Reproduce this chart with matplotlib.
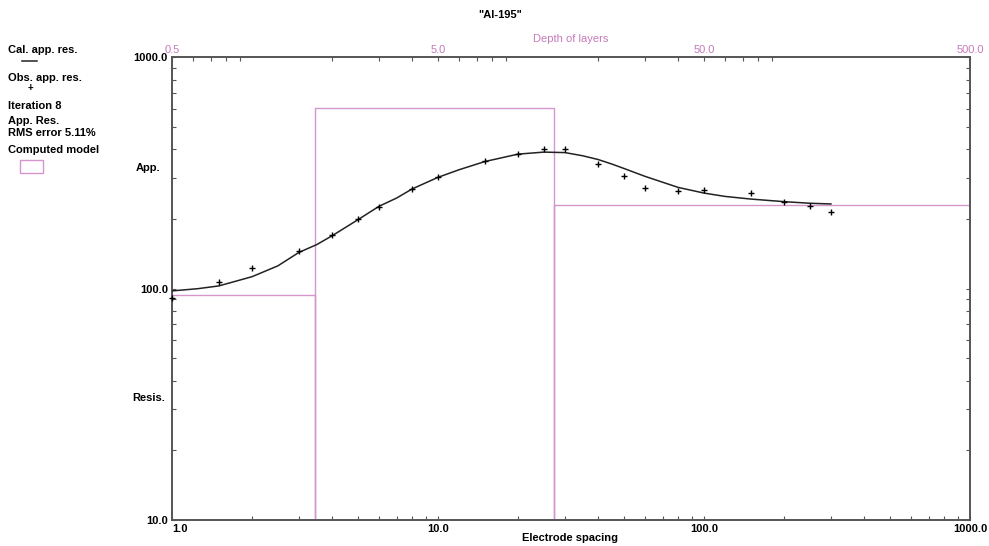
import matplotlib
matplotlib.use('Agg')
import matplotlib.pyplot as plt
from matplotlib.ticker import FixedLocator, NullFormatter

# observed apparent resistivity (electrode spacing, ohm-m)
spacing = [1, 1.5, 2, 3, 4, 5, 6, 8, 10, 15, 20, 25, 30, 40, 50, 60, 80, 100, 150, 200, 250, 300]
obs_res = [90.8, 106.9, 122.5, 145.7, 171, 199.5, 226, 271, 303, 357, 384, 401.6, 401.6,
           345.6, 308, 273.5, 264, 266.5, 260, 237.8, 227, 214.5]

# calculated apparent resistivity curve, read at finer spacings
cal_spacing = [1, 1.25, 1.5, 2, 2.5, 3, 3.5, 4, 5, 6, 7, 8, 10, 12, 15, 20, 25, 30, 35, 40,
               45, 50, 60, 80, 100, 120, 150, 200, 250, 300]
cal_res = [97.7, 99.9, 102.7, 112.6, 125.4, 143.4, 155, 169.3, 198.6, 227, 246.7, 270, 303,
           326.8, 354.6, 381.8, 389.6, 387.7, 375.6, 361.8, 346, 331, 306, 274, 259, 250.5,
           244, 237.8, 234, 232.4]

# computed layer model
layer_res = [93.8, 606, 230]
layer_depth = [1.73, 13.6]

x_ticks = [1.0, 10.0, 100.0, 1000.0]
depth_ticks = [0.5, 5.0, 50.0, 500.0]
y_ticks = [10.0, 100.0, 1000.0]

pink = '#d595cd'
pink_txt = '#c57ab9'
plt.rcParams['font.family'] = ['Liberation Sans', 'DejaVu Sans']
plt.rcParams['font.weight'] = 'bold'
plt.rcParams['font.size'] = 8

fig = plt.figure(figsize=(9.89, 5.46), dpi=100)
ax = fig.add_axes([0.1739, 0.0482, 0.8069, 0.8465])

# model drawn against the depth axis (top)
top = ax.twiny()
top.set_xscale('log')
top.set_xlim(0.5, 500)
mx = [0.5, layer_depth[0], layer_depth[0], layer_depth[0], layer_depth[1], layer_depth[1], layer_depth[1], 500]
my = [layer_res[0], layer_res[0], 10, layer_res[1], layer_res[1], 10, layer_res[2], layer_res[2]]

ax.set_xscale('log')
ax.set_yscale('log')
ax.set_xlim(1, 1000)
ax.set_ylim(10, 1000)
top.plot(mx, my, color=pink, lw=1.0, zorder=2)
ax.plot(cal_spacing, cal_res, color='#222222', lw=1.1, zorder=3)
ax.plot(spacing, obs_res, '+', color='black', ms=5, mew=1.0, zorder=4, clip_on=False)
ax.set_zorder(top.get_zorder() + 1)
ax.patch.set_visible(False)

minors_x = [m * 10 ** e for e in range(0, 3) for m in range(2, 10)]
minors_d = [m * 10 ** e for e in range(-1, 2) for m in range(2, 10) if m * 10 ** e > 0.5]
minors_y = [m * 10 ** e for e in range(1, 3) for m in range(2, 10)]

ax.xaxis.set_major_locator(FixedLocator(x_ticks))
ax.xaxis.set_minor_locator(FixedLocator(minors_x))
ax.set_xticklabels(['%.1f' % v for v in x_ticks])
ax.xaxis.set_minor_formatter(NullFormatter())
ax.get_xticklabels()[0].set_ha('left')
ax.yaxis.set_major_locator(FixedLocator(y_ticks))
ax.yaxis.set_minor_locator(FixedLocator(minors_y))
ax.set_yticklabels(['%.1f' % v for v in y_ticks])
ax.yaxis.set_minor_formatter(NullFormatter())
ax.tick_params(which='both', direction='in', right=True, length=3, width=0.8, color='#555555', pad=3)
ax.tick_params(axis='x', which='both', top=False)

top.xaxis.set_major_locator(FixedLocator(depth_ticks))
top.xaxis.set_minor_locator(FixedLocator(minors_d))
top.set_xticklabels(['%.1f' % v for v in depth_ticks], fontweight='normal')
top.xaxis.set_minor_formatter(NullFormatter())
top.tick_params(which='both', direction='in', length=3, width=0.8, color='#555555',
                labelcolor=pink_txt, pad=2)

for a in (ax, top):
    for s in a.spines.values():
        s.set_color('#555555')
        s.set_linewidth(1.2)

fig.text(0.576, 0.015, 'Electrode spacing', ha='center', va='center')
top.set_xlabel('Depth of layers', color=pink_txt, fontweight='normal', labelpad=2)
fig.text(0.506, 0.972, '"AI-195"', ha='center', va='center')
fig.text(0.15, 0.692, 'App.', ha='center', va='center')
fig.text(0.15, 0.271, 'Resis.', ha='center', va='center')

# left side legend block
fig.text(0.008, 0.908, 'Cal. app. res.', ha='left', va='center')
fig.add_artist(plt.Line2D([0.022, 0.037], [0.889, 0.889], color='#222222', lw=1.1))
fig.text(0.008, 0.857, 'Obs. app. res.', ha='left', va='center')
fig.text(0.031, 0.838, '+', ha='center', va='center', fontsize=7)
fig.text(0.008, 0.806, 'Iteration 8', ha='left', va='center')
fig.text(0.008, 0.778, 'App. Res.', ha='left', va='center')
fig.text(0.008, 0.756, 'RMS error 5.11%', ha='left', va='center')
fig.text(0.008, 0.725, 'Computed model', ha='left', va='center')
fig.add_artist(plt.Rectangle((0.0205, 0.683), 0.023, 0.024, fill=False, ec=pink, lw=1.0))

fig.savefig('out.png', dpi=100)
